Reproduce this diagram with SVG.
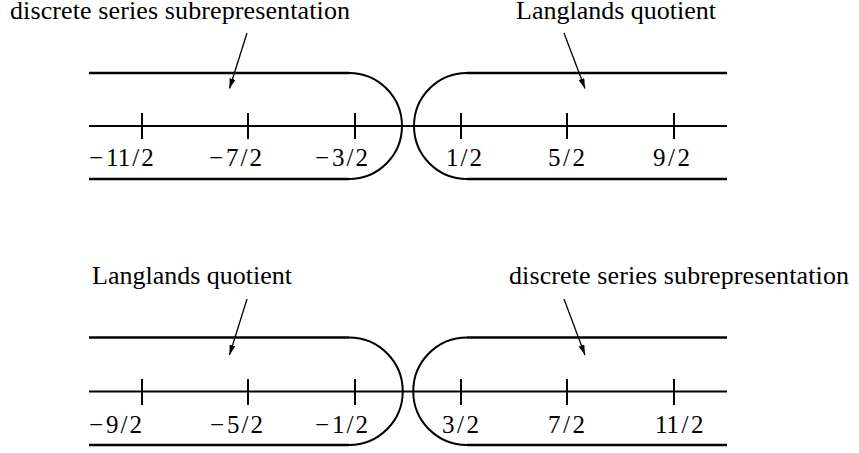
<svg xmlns="http://www.w3.org/2000/svg" width="859" height="453" viewBox="0 0 859 453">
<defs>
<style>
.bg{fill:#fff}
.rail{stroke:#000;stroke-width:2.7;fill:none}
.arc{stroke:#000;stroke-width:2;fill:none}
.axis{stroke:#000;stroke-width:2;fill:none}
.tick{stroke:#000;stroke-width:2}
.ptr{stroke:#000;stroke-width:1.3;fill:none;marker-end:url(#ah)}
.hd{font-family:"Liberation Serif","Times New Roman",serif;font-size:26px;fill:#000}
.lb{font-family:"Liberation Serif","Times New Roman",serif;font-size:25px;fill:#000}
</style>
<marker id="ah" viewBox="0 0 10 6" refX="10" refY="3" markerWidth="10" markerHeight="6" markerUnits="userSpaceOnUse" orient="auto">
<path d="M0,0 L10,3 L0,6 Z" fill="#000"/>
</marker>
</defs>
<rect class="bg" x="0" y="0" width="859" height="453"/>

<g id="top-diagram">
  <g id="top-left-region">
    <path class="rail" d="M89,73 H349"/>
    <path class="rail" d="M89,179 H349"/>
    <path class="arc" d="M349,73 A53,53 0 0 1 349,179"/>
  </g>
  <g id="top-right-region">
    <path class="rail" d="M467,73 H727"/>
    <path class="rail" d="M467,179 H727"/>
    <path class="arc" d="M467,73 A53,53 0 0 0 467,179"/>
  </g>
  <g id="top-axis">
    <path class="axis" d="M89,126 H727"/>
    <path class="tick" d="M142,113 V139 M248,113 V139 M355,113 V139 M461,113 V139 M567,113 V139 M674,113 V139"/>
    <text class="lb" x="89" y="166">−<tspan dx="3">11</tspan><tspan dx="2">/</tspan><tspan dx="2">2</tspan></text>
    <text class="lb" x="209" y="166">−<tspan dx="3">7</tspan><tspan dx="2">/</tspan><tspan dx="2">2</tspan></text>
    <text class="lb" x="315" y="166">−<tspan dx="3">3</tspan><tspan dx="2">/</tspan><tspan dx="2">2</tspan></text>
    <text class="lb" x="446" y="166">1<tspan dx="2">/</tspan><tspan dx="2">2</tspan></text>
    <text class="lb" x="548" y="166">5<tspan dx="2.5">/</tspan><tspan dx="2.5">2</tspan></text>
    <text class="lb" x="653" y="166">9<tspan dx="2.5">/</tspan><tspan dx="2.5">2</tspan></text>
  </g>
  <g id="top-label-discrete">
    <text class="hd" x="10" y="19" textLength="340" lengthAdjust="spacing">discrete series subrepresentation</text>
  </g>
  <g id="top-label-langlands">
    <text class="hd" x="516" y="19" textLength="200" lengthAdjust="spacing">Langlands quotient</text>
  </g>
</g>

<g id="bottom-diagram">
  <g id="bottom-left-region">
    <path class="rail" d="M89,337.5 H349"/>
    <path class="rail" d="M89,445 H349"/>
    <path class="arc" d="M349,337.5 A53.75,53.75 0 0 1 349,445"/>
  </g>
  <g id="bottom-right-region">
    <path class="rail" d="M467,337.5 H727"/>
    <path class="rail" d="M467,445 H727"/>
    <path class="arc" d="M467,337.5 A53.75,53.75 0 0 0 467,445"/>
  </g>
  <g id="bottom-axis">
    <path class="axis" d="M89,391.5 H727"/>
    <path class="tick" d="M142,379 V405 M248,379 V405 M355,379 V405 M461,379 V405 M567,379 V405 M674,379 V405"/>
    <text class="lb" x="89" y="433">−<tspan dx="3">9</tspan><tspan dx="2">/</tspan><tspan dx="2">2</tspan></text>
    <text class="lb" x="210" y="433">−<tspan dx="3">5</tspan><tspan dx="2">/</tspan><tspan dx="2">2</tspan></text>
    <text class="lb" x="315" y="433">−<tspan dx="3">1</tspan><tspan dx="2">/</tspan><tspan dx="2">2</tspan></text>
    <text class="lb" x="442" y="433">3<tspan dx="2.5">/</tspan><tspan dx="2.5">2</tspan></text>
    <text class="lb" x="548" y="433">7<tspan dx="2.5">/</tspan><tspan dx="2.5">2</tspan></text>
    <text class="lb" x="655" y="433">11<tspan dx="2.5">/</tspan><tspan dx="2.5">2</tspan></text>
  </g>
  <g id="bottom-label-langlands">
    <text class="hd" x="92" y="284" textLength="200" lengthAdjust="spacing">Langlands quotient</text>
  </g>
  <g id="bottom-label-discrete">
    <text class="hd" x="509" y="284" textLength="340" lengthAdjust="spacing">discrete series subrepresentation</text>
  </g>
</g>

<g id="connectors">
  <path class="ptr" d="M247,33 L229.5,88.5"/>
  <path class="ptr" d="M564,33 L585,88.5"/>
  <path class="ptr" d="M247,299 L229.5,355"/>
  <path class="ptr" d="M564,299 L585,355"/>
</g>
</svg>
